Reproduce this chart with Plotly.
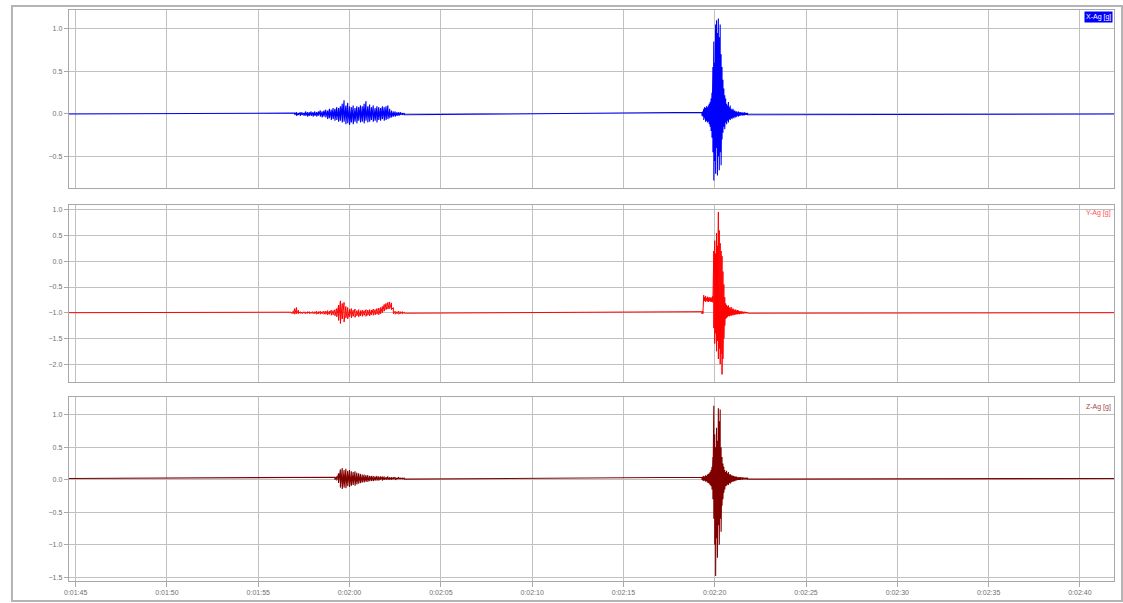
import plotly.graph_objects as go

# ---------------- data ----------------
channels = ["X-Ag [g]", "Y-Ag [g]", "Z-Ag [g]"]
x_tick_seconds = [105, 110, 115, 120, 125, 130, 135, 140, 145, 150, 155, 160]
x_tick_labels = ["0:01:45", "0:01:50", "0:01:55", "0:02:00", "0:02:05", "0:02:10",
                 "0:02:15", "0:02:20", "0:02:25", "0:02:30", "0:02:35", "0:02:40"]
t_first, t_last = 104.62, 161.87

# X channel (blue): baseline + two bursts, given as per-sample max / min envelope
x_base = 0.0
x_b1_start, x_b1_step = 117.0, 0.1
x_b1_hi = [0.01, 0.02, 0.01, 0.02, 0.02, 0.01, 0.03, 0.02, 0.02, 0.03, 0.02, 0.03, 0.02, 0.03, 0.04, 0.03, 0.04,
           0.05, 0.04, 0.06, 0.05, 0.07, 0.06, 0.08, 0.07, 0.09,
           0.12, 0.16, 0.10, 0.13, 0.09,
           0.08, 0.10, 0.07, 0.09, 0.08, 0.10, 0.09, 0.12, 0.15, 0.09, 0.11, 0.08, 0.10, 0.07, 0.09, 0.08, 0.07,
           0.09, 0.08, 0.09, 0.10, 0.06,
           0.04, 0.03, 0.03, 0.02, 0.02, 0.02, 0.01, 0.01]
x_b1_lo = [-0.01, -0.02, -0.01, -0.02, -0.01, -0.02, -0.02, -0.03, -0.02, -0.02, -0.03, -0.02, -0.03, -0.02, -0.03, -0.04, -0.03,
           -0.04, -0.06, -0.05, -0.07, -0.06, -0.08, -0.07, -0.09, -0.08,
           -0.10, -0.09, -0.12, -0.11, -0.13,
           -0.10, -0.12, -0.09, -0.11, -0.08, -0.10, -0.09, -0.11, -0.08, -0.10, -0.09, -0.07, -0.09, -0.08, -0.10, -0.07, -0.08,
           -0.06, -0.08, -0.07, -0.06, -0.05,
           -0.04, -0.03, -0.03, -0.02, -0.02, -0.01, -0.01, -0.01]
x_b2_start, x_b2_step = 139.3, 0.05
x_b2_hi = [0.02, 0.03, 0.06, 0.08, 0.07, 0.09, 0.08, 0.10, 0.12, 0.14,
           0.18, 0.25, 0.55, 0.85, 0.60, 1.05, 1.10, 0.95, 1.12, 0.90,
           1.05, 0.70, 0.55, 0.40, 0.30, 0.22, 0.18, 0.12, 0.10, 0.14,
           0.08, 0.10, 0.06, 0.05, 0.06, 0.04, 0.04, 0.03, 0.03, 0.02,
           0.03, 0.02, 0.02, 0.02, 0.01, 0.02, 0.01, 0.02, 0.01, 0.01, 0.01]
x_b2_lo = [-0.02, -0.03, -0.07, -0.05, -0.09, -0.08, -0.10, -0.09, -0.12, -0.15,
           -0.20, -0.28, -0.45, -0.78, -0.55, -0.70, -0.40, -0.72, -0.50, -0.66,
           -0.45, -0.60, -0.30, -0.22, -0.15, -0.18, -0.10, -0.12, -0.08, -0.10,
           -0.06, -0.07, -0.05, -0.06, -0.04, -0.05, -0.03, -0.04, -0.03, -0.02,
           -0.03, -0.02, -0.02, -0.01, -0.02, -0.01, -0.02, -0.01, -0.01, -0.01, -0.01]

# Y channel (red)
y_base = -1.0
y_b1_start, y_b1_step = 116.8, 0.1
y_b1_hi = [-0.99, -0.98, -0.92, -0.90, -0.95, -0.98, -0.99, -0.98, -0.99, -0.98,
           -0.98, -0.99, -0.98, -0.98, -0.97, -0.98, -0.97, -0.98, -0.97, -0.97,
           -0.96, -0.97, -0.95, -0.96, -0.94, -0.92, -0.85, -0.77, -0.82, -0.80,
           -0.88, -0.90, -0.93, -0.92, -0.95, -0.93, -0.96, -0.94, -0.96, -0.95,
           -0.96, -0.94, -0.95, -0.94, -0.95, -0.93, -0.94, -0.92, -0.91, -0.90,
           -0.88, -0.84, -0.82, -0.80, -0.79, -0.81, -0.90, -0.97, -0.98, -0.97,
           -0.98, -0.98, -0.99]
y_b1_lo = [-1.01, -1.02, -1.03, -1.02, -1.02, -1.01, -1.02, -1.01, -1.02, -1.01,
           -1.02, -1.01, -1.02, -1.02, -1.03, -1.02, -1.03, -1.02, -1.03, -1.03,
           -1.04, -1.03, -1.05, -1.04, -1.06, -1.08, -1.15, -1.21, -1.12, -1.18,
           -1.10, -1.12, -1.08, -1.10, -1.07, -1.09, -1.06, -1.08, -1.06, -1.07,
           -1.05, -1.07, -1.05, -1.06, -1.04, -1.05, -1.04, -1.03, -1.04, -1.02,
           -1.00, -0.97, -0.94, -0.93, -0.92, -0.94, -1.02, -1.03, -1.02, -1.03,
           -1.02, -1.02, -1.01]
y_b2_start, y_b2_step = 139.3, 0.05
y_b2_hi = [-0.98, -0.97, -0.66, -0.70, -0.68, -0.72, -0.69, -0.71, -0.70, -0.72,
           -0.70, -0.72, -0.68, 0.20, 0.40, 0.15, 0.55, 0.30, 0.96, 0.60,
           0.35, 0.20, 0.10, -0.20, -0.45, -0.70, -0.82, -0.85, -0.88, -0.86,
           -0.90, -0.92, -0.89, -0.93, -0.92, -0.94, -0.95, -0.94, -0.96, -0.95,
           -0.96, -0.97, -0.98, -0.97, -0.98, -0.98, -0.99, -0.98, -0.99, -0.99, -0.99]
y_b2_lo = [-1.02, -1.02, -0.78, -0.77, -0.79, -0.76, -0.78, -0.79, -0.77, -0.78,
           -0.79, -0.78, -0.80, -1.30, -1.60, -1.40, -1.75, -1.55, -1.90, -1.70,
           -2.00, -1.80, -2.20, -1.90, -1.50, -1.25, -1.12, -1.10, -1.08, -1.06,
           -1.07, -1.05, -1.06, -1.04, -1.05, -1.04, -1.04, -1.03, -1.03, -1.03,
           -1.02, -1.03, -1.02, -1.02, -1.01, -1.02, -1.01, -1.01, -1.01, -1.01, -1.01]

# Z channel (dark red)
z_base = 0.02
z_b1_start, z_b1_step = 119.2, 0.1
z_b1_hi = [0.04, 0.05, 0.10, 0.16, 0.18, 0.15, 0.17, 0.14, 0.15, 0.13,
           0.12, 0.13, 0.11, 0.10, 0.09, 0.08, 0.08, 0.07, 0.07, 0.06,
           0.06, 0.06, 0.05, 0.06, 0.05, 0.05, 0.05, 0.05, 0.04, 0.05,
           0.04, 0.04, 0.04, 0.04, 0.03, 0.04, 0.03, 0.03, 0.03]
z_b1_lo = [0.00, -0.01, -0.05, -0.12, -0.14, -0.12, -0.13, -0.10, -0.11, -0.09,
           -0.08, -0.09, -0.07, -0.06, -0.05, -0.04, -0.04, -0.03, -0.03, -0.02,
           -0.02, -0.02, -0.01, -0.01, -0.01, 0.00, -0.01, 0.00, 0.00, 0.00,
           0.00, 0.00, 0.01, 0.00, 0.01, 0.01, 0.01, 0.01, 0.01]
z_b2_start, z_b2_step = 139.3, 0.05
z_b2_hi = [0.04, 0.05, 0.06, 0.05, 0.07, 0.06, 0.08, 0.09, 0.10, 0.12,
           0.15, 0.20, 0.35, 1.14, 0.70, 0.50, 0.80, 0.60, 1.10, 0.90,
           1.08, 0.50, 0.35, 0.25, 0.20, 0.15, 0.12, 0.14, 0.10, 0.12,
           0.08, 0.09, 0.07, 0.07, 0.06, 0.06, 0.05, 0.05, 0.05, 0.04,
           0.04, 0.04, 0.04, 0.04, 0.03, 0.04, 0.03, 0.03, 0.03, 0.03, 0.03]
z_b2_lo = [0.00, -0.01, -0.02, -0.01, -0.03, -0.02, -0.04, -0.05, -0.06, -0.08,
           -0.10, -0.15, -0.30, -0.60, -1.00, -1.48, -0.90, -1.20, -0.70, -1.00,
           -0.60, -0.80, -0.40, -0.30, -0.20, -0.15, -0.10, -0.09, -0.07, -0.08,
           -0.05, -0.06, -0.04, -0.03, -0.03, -0.02, -0.02, -0.01, -0.01, 0.00,
           0.00, 0.00, 0.00, 0.01, 0.00, 0.01, 0.01, 0.01, 0.01, 0.01, 0.01]

colors = ["#0000ff", "#ff0000", "#800000"]
line_widths = [1.1, 1.0, 1.1]
y_ticks = [[-0.5, 0.0, 0.5, 1.0],
           [-2.0, -1.5, -1.0, -0.5, 0.0, 0.5, 1.0],
           [-1.5, -1.0, -0.5, 0.0, 0.5, 1.0]]
y_ranges = [[-0.868, 1.219], [-2.348, 1.095], [-1.557, 1.274]]


# ---------------- helpers ----------------
def zigzag(start, step, hi, lo):
    # each sample drawn as a vertical stroke from its max to its min,
    # then joined to the next sample's max (gives the dense filled look)
    ts, vs = [], []
    for i, (h, l) in enumerate(zip(hi, lo)):
        t = start + i * step
        ts += [t, t]
        vs += [h, l]
    return ts, vs


def build(base, b1, b2):
    t1, v1 = zigzag(*b1)
    t2, v2 = zigzag(*b2)
    return [t_first] + t1 + t2 + [t_last], [base] + v1 + v2 + [base]


series = [
    build(x_base, (x_b1_start, x_b1_step, x_b1_hi, x_b1_lo), (x_b2_start, x_b2_step, x_b2_hi, x_b2_lo)),
    build(y_base, (y_b1_start, y_b1_step, y_b1_hi, y_b1_lo), (y_b2_start, y_b2_step, y_b2_hi, y_b2_lo)),
    build(z_base, (z_b1_start, z_b1_step, z_b1_hi, z_b1_lo), (z_b2_start, z_b2_step, z_b2_hi, z_b2_lo)),
]

W, H = 1123, 603
def py(px):
    return 1 - px / H

x_dom = [64 / W, 1114 / W]
y_doms = [[py(188), py(10)], [py(382), py(205)], [py(581), py(397)]]

grid_c = "#c0c0c0"
frame_c = "#a8a8a8"
tick_font = dict(family="Liberation Sans, Arial, sans-serif", size=7, color="#707070")

fig = go.Figure()
layout = dict(width=W, height=H, autosize=False, margin=dict(l=0, r=0, t=0, b=0),
              paper_bgcolor="white", plot_bgcolor="white", showlegend=False)

for i in range(3):
    n = "" if i == 0 else str(i + 1)
    ts, vs = series[i]
    fig.add_trace(go.Scatter(x=ts, y=vs, mode="lines", line=dict(color=colors[i], width=line_widths[i]),
                             xaxis="x" + n, yaxis="y" + n, hoverinfo="skip"))
    layout["xaxis" + n] = dict(domain=x_dom, anchor="y" + n, range=[t_first, t_last],
                               tickvals=x_tick_seconds, ticktext=x_tick_labels,
                               showticklabels=(i == 2), ticks="outside" if i == 2 else "",
                               ticklen=5, tickcolor=frame_c, tickfont=tick_font,
                               showgrid=True, gridcolor=grid_c, gridwidth=1,
                               showline=True, mirror=True, linecolor=frame_c, linewidth=1,
                               zeroline=False, fixedrange=True)
    layout["yaxis" + n] = dict(domain=y_doms[i], anchor="x" + n, range=y_ranges[i],
                               tickvals=y_ticks[i], tickformat=".1f", ticks="outside",
                               ticklen=4, tickcolor=frame_c, tickfont=tick_font,
                               showgrid=True, gridcolor=grid_c, gridwidth=1,
                               showline=True, mirror=True, linecolor=frame_c, linewidth=1,
                               zeroline=False, fixedrange=True)

fig.update_layout(**layout)

# outer frame
fig.add_shape(type="rect", xref="paper", yref="paper", x0=7 / W, x1=1122 / W, y0=py(601), y1=py(6),
              line=dict(color="#b4b4b4", width=2), layer="below")

# channel labels
label_font_colors = ["#ffffff", "#ff5050", "#a04848"]
label_bg = ["#0000ff", "rgba(0,0,0,0)", "rgba(0,0,0,0)"]
label_tops = [11, 207, 401]
for i in range(3):
    fig.add_annotation(text=channels[i], xref="paper", yref="paper", x=1113 / W, y=py(label_tops[i]),
                       xanchor="right", yanchor="top", showarrow=False,
                       font=dict(family="Liberation Sans, Arial, sans-serif", size=7, color=label_font_colors[i]),
                       bgcolor=label_bg[i], borderpad=1)

fig.write_html("out.html", config={"displayModeBar": False},
               post_script="document.body.style.margin='0';document.body.style.overflow='hidden';")
